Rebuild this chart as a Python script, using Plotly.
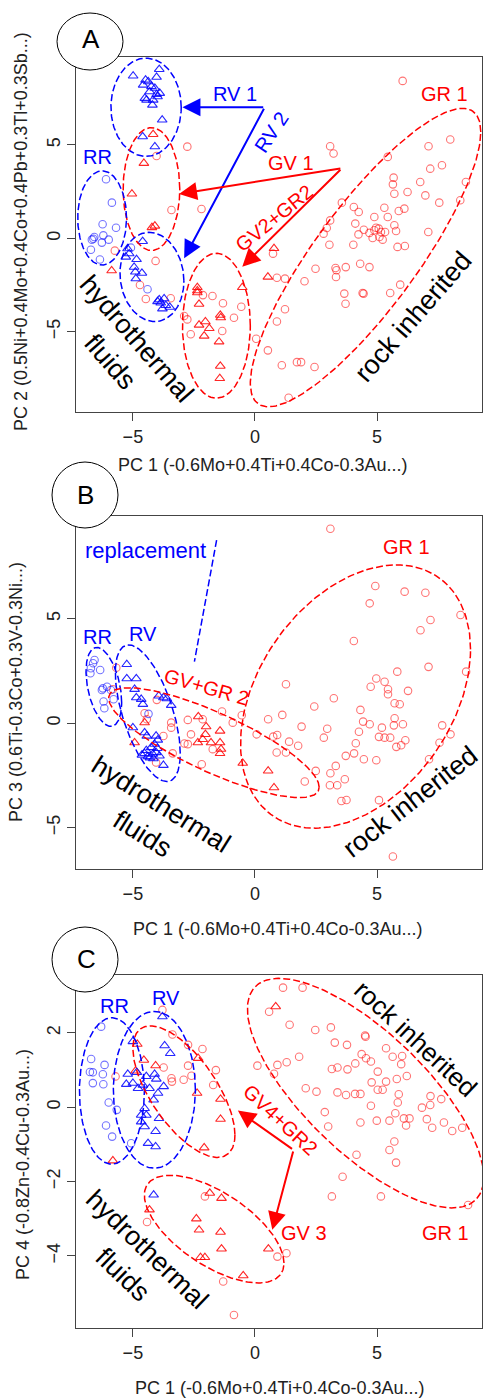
import numpy as np
import plotly.graph_objects as go

# ---------------- data: panel A (PC1 vs PC2) ----------------
A_RR = [(-6.10,3.16),(-5.86,1.91),(-6.24,0.75),(-5.69,0.57),(-6.58,0.07),(-6.68,-0.07),(-6.62,-0.02),
        (-6.21,0.16),(-5.99,-0.07),(-6.27,-0.23),(-6.72,-0.61),(-6.35,-1.13),(-5.08,-0.50),(-4.40,-2.73)]
A_RV = [(-4.99,8.70),(-3.92,9.05),(-4.03,8.63),(-4.48,8.48),(-4.37,8.39),(-4.58,8.21),(-4.24,8.13),(-4.10,8.04),
        (-3.90,7.77),(-3.99,7.59),(-4.44,7.41),(-4.51,7.50),(-4.17,7.41),(-4.20,7.14),(-4.03,7.71),(-4.31,7.86),
        (-3.80,6.34),(-4.60,5.45),(-4.10,4.91),
        (-4.60,-0.16),(-5.22,-0.55),(-5.15,-0.82),(-5.29,-1.00),(-4.85,-1.13),(-4.95,-1.54),(-4.90,-1.80),
        (-4.63,-1.86),(-4.88,-2.16),(-3.99,-3.38),(-3.86,-3.46),(-3.72,-3.23),(-3.65,-3.59),(-3.79,-3.77),
        (-3.49,-3.68),(-3.92,-3.29)]
A_GR = [(-2.77,4.91),(-4.03,4.41),(-3.42,1.52),(-2.19,1.57),(-5.74,-0.66),(-4.07,-1.21),(-4.71,-2.50),(-4.47,-3.25),
        (-3.45,-3.21),(-2.90,-4.16),(-2.77,-4.34),(-2.13,-3.04),(-1.74,-3.09),(-1.31,-3.48),(-0.56,-3.66),
        (-0.86,-4.25),(-1.34,-4.96),(-2.63,-5.14),
        (6.05,8.43),(7.11,4.93),(8.00,5.29),(3.08,4.93),(3.22,4.54),(5.44,4.36),(7.18,3.73),(7.66,3.91),(5.68,3.25),
        (5.65,2.89),(5.71,2.39),(6.25,2.48),(6.77,3.02),(6.98,2.30),(7.55,1.91),(8.64,3.02),(8.41,2.04),(3.56,1.91),
        (4.05,1.68),(4.25,1.41),(5.30,1.64),(5.89,1.46),(6.12,1.59),(4.89,1.14),(5.44,1.14),(3.08,0.96),(2.94,0.55),
        (2.81,0.25),(4.11,0.79),(4.24,0.21),(4.46,0.46),(4.69,0.29),(4.89,0.43),(4.96,0.57),(5.07,0.52),(5.16,0.34),
        (5.10,0.07),(5.23,-0.07),(5.33,0.34),(4.82,0.02),(5.71,0.70),(5.78,0.39),(7.10,0.34),(3.05,-0.34),(4.03,-0.34),
        (5.84,-0.46),(6.14,-0.41),(2.48,-1.63),(3.30,-1.59),(3.34,-1.71),(3.72,-1.54),(4.31,-1.36),(4.69,-1.54),
        (2.03,-2.30),(3.32,-2.07),(1.23,-2.16),(0.90,-2.11),(0.74,-0.82),(5.95,-2.48),(3.66,-2.96),(3.71,-3.50),
        (4.41,-2.93),(4.45,-2.96),(5.54,-2.93),(1.23,-3.80),(0.90,-4.45),(0.05,-5.38),(0.53,-6.00),(1.10,-6.80),
        (1.72,-6.63),(1.89,-6.63),(2.44,-6.89),(1.38,-8.54)]
A_GV = [(-4.17,5.57),(-4.55,4.02),(-5.04,2.38),(-4.10,0.66),(-4.22,0.58),(-5.87,-1.73),(0.78,-0.54),(0.53,-2.07),
        (-2.36,-2.63),(-2.36,-2.80),(-2.36,-2.91),(-2.29,-3.52),(-0.52,-2.63),(-2.03,-4.46),(-2.29,-4.64),
        (-1.87,-4.82),(-2.08,-5.23),(-1.42,-4.11),(-1.40,-4.25),(-1.47,-5.54),(-1.42,-6.84),(-1.44,-7.50)]

# ---------------- data: panel B (PC1 vs PC3) ----------------
B_RR = [(-6.57,3.03),(-6.63,2.87),(-6.72,2.63),(-6.74,2.39),(-6.34,2.55),(-6.23,1.67),(-6.06,1.75),(-6.27,1.59),
        (-5.90,1.59),(-6.20,1.04),(-6.17,0.72),(-5.79,1.15),(-4.36,0.45)]
B_RV = [(-5.25,2.82),(-5.25,2.14),(-4.86,2.14),(-4.93,1.63),(-4.86,1.23),(-4.66,1.15),(-4.59,0.91),(-3.94,1.31),
        (-3.75,1.23),(-3.61,1.18),(-3.43,0.86),(-5.00,-0.21),(-4.52,-0.45),(-4.43,-0.61),(-4.05,-0.61),(-3.98,-0.80),
        (-4.11,-1.00),(-4.25,-1.16),(-4.52,-1.44),(-4.39,-1.59),(-4.18,-1.48),(-4.05,-1.40),(-3.91,-1.56),
        (-3.75,-2.01),(-4.16,-1.69),(-4.63,-1.52),(-4.30,-1.65),(-4.45,-1.30),(-4.00,-1.20)]
B_GR = [(-5.68,2.66),(-5.82,1.63),(-4.52,0.48),(-4.43,0.19),(-4.02,1.12),(-3.43,0.03),(-3.43,-0.21),(-3.75,-0.61),
        (-3.37,-1.44),(-4.05,-1.88),(-2.62,-0.53),(-2.89,-0.97),(-2.75,-1.00),(-2.18,-1.96),(-2.14,0.19),
        (-1.35,0.56),(-0.54,0.38),(-0.91,0.03),(-1.73,-1.24),(-2.75,0.16),
        (3.09,9.31),(4.93,6.57),(6.13,6.30),(6.98,6.25),(4.70,5.74),(8.42,5.18),(7.19,4.94),(6.78,4.45),(4.05,3.94),
        (7.11,2.70),(8.65,2.47),(5.83,2.47),(4.97,2.14),(5.31,1.99),(4.74,1.75),(5.45,1.63),(5.45,1.39),(6.27,1.55),
        (1.27,1.87),(5.72,0.96),(5.93,0.91),(3.23,1.20),(2.43,0.80),(4.32,0.64),(5.72,0.24),(4.43,0.08),(4.70,-0.05),
        (5.20,-0.21),(5.69,-0.10),(6.06,-0.05),(7.67,-0.10),(8.01,-0.53),(0.54,0.19),(1.12,0.40),(1.91,-0.16),
        (2.96,-0.26),(2.82,-0.69),(0.07,-0.53),(0.75,-0.64),(0.91,-0.56),(1.40,-0.88),(1.77,-1.08),(0.89,-1.40),
        (1.27,-1.40),(4.26,-0.41),(4.13,-0.96),(4.06,-1.44),(4.46,-1.72),(5.08,-0.65),(5.31,-0.69),(5.54,-0.69),
        (5.79,-1.13),(5.99,-1.05),(6.16,-0.81),(7.56,-0.93),(7.13,-1.72),(4.97,-1.77),(3.72,-1.56),(2.49,-2.28),
        (3.09,-2.39),(3.31,-2.04),(3.68,-2.68),(3.07,-2.97),(3.37,-2.97),(2.04,-2.79),(3.54,-3.72),(3.75,-3.67),
        (5.08,-3.68),(5.65,-6.38)]
B_GV = [(-4.52,0.03),(-4.93,-0.93),(-2.32,0.32),(-2.00,-0.16),(-1.43,-0.37),(-2.03,-0.53),(-2.14,-0.77),
        (-2.34,-0.93),(-1.80,-0.93),(-1.43,-0.93),(-1.39,-1.24),(-1.43,-1.44),(-0.50,-1.91),(0.54,-2.28),(0.78,-3.08)]

# ---------------- data: panel C (PC1 vs PC4) ----------------
C_RR = [(-6.30,2.17),(-6.71,1.30),(-6.16,1.14),(-6.64,0.94),(-6.23,0.89),(-6.64,0.65),(-6.21,0.62),(-5.99,0.13),
        (-5.66,-0.07),(-6.10,-0.49),(-5.85,-0.79),(-5.07,-0.97),(-6.76,0.95)]
C_RV = [(-3.79,2.44),(-5.00,1.77),(-3.70,1.66),(-3.47,1.45),(-5.21,0.89),(-4.84,0.94),(-5.27,0.62),(-5.00,0.65),
        (-4.45,0.83),(-4.11,0.89),(-4.04,0.76),(-3.74,0.56),(-4.32,0.51),(-3.97,0.38),(-4.15,0.20),(-4.52,-0.03),
        (-4.66,-0.21),(-4.45,-0.21),(-3.93,-0.30),(-4.66,-0.39),(-4.07,-0.65),(-4.52,-0.52),(-4.38,-0.97),
        (-4.07,-1.06),(-4.15,-2.36),(-4.79,0.51),(-4.59,0.60)]
C_GR = [(-3.79,2.62),(-3.38,1.96),(-2.74,1.68),(-2.15,1.57),(-3.74,1.07),(-3.42,0.78),(-3.40,0.69),(-2.74,1.12),
        (-2.60,0.85),(-2.92,0.74),(-1.60,1.00),(-1.71,0.60),(-5.71,0.83),(-4.42,-3.09),(-2.05,-2.40),(-1.30,-4.69),
        (-0.86,-5.59),
        (1.15,3.22),(1.95,3.22),(0.58,2.57),(1.42,2.22),(2.47,2.08),(3.11,2.15),(4.51,1.93),(4.53,1.90),(3.27,1.74),
        (3.77,1.68),(1.81,1.36),(1.30,1.21),(0.92,1.14),(0.10,1.12),(0.78,0.90),(4.37,1.43),(4.55,1.32),(4.75,1.23),
        (5.37,1.59),(5.64,1.36),(6.03,1.38),(5.99,1.16),(3.15,1.03),(3.38,1.07),(3.79,1.02),(4.11,1.18),(5.03,0.96),
        (5.81,0.76),(6.22,0.84),(2.08,0.51),(2.52,0.42),(3.38,0.40),(3.73,0.33),(4.10,0.36),(4.32,0.36),(4.78,0.67),
        (5.03,0.47),(5.23,0.47),(5.37,0.69),(5.89,0.35),(5.85,0.13),(4.75,0.04),(2.86,-0.13),(3.00,-0.52),
        (4.32,-0.41),(4.99,-0.36),(5.51,-0.36),(5.75,-0.16),(6.10,-0.30),(6.33,-0.30),(6.19,-0.49),(6.84,-0.01),
        (7.18,0.06),(7.19,0.30),(7.63,0.22),(7.04,-0.32),(7.26,-0.55),(7.74,-0.41),(8.08,-0.64),(8.49,-0.55),
        (5.71,-0.92),(5.51,-1.15),(5.78,-1.49),(4.16,-1.28),(3.59,-1.87),(3.15,-2.40),(5.16,-2.40),(8.73,-2.63),
        (0.92,-4.02),(1.29,-3.93)]
C_GV = [(-4.82,1.70),(-4.55,1.27),(-4.07,1.12),(-4.89,0.98),(-2.33,1.32),(-2.37,0.38),(-1.41,0.22),(-1.41,-0.32),
        (-2.08,-1.09),(-5.82,-1.44),(-4.32,-2.76),(-1.85,-2.31),(-1.37,-2.45),(-2.40,-3.00),(-2.29,-3.30),
        (-1.41,-3.36),(-1.37,-3.81),(-2.23,-4.04),(-2.05,-4.04),(0.55,-3.81),(-0.48,-4.53),(0.85,2.71)]

# ellipses: (panel, colour, cx, cy, half-width, half-height, phase deg)
ELLIPSES = [
    (0, "blue", -4.46, 7.02, 1.44, 2.63, 90), (0, "red", -4.24, 2.64, 1.16, 3.29, 90),
    (0, "blue", -6.26, 1.09, 1.00, 2.52, 90), (0, "blue", -4.22, -2.07, 1.31, 2.39, 95),
    (0, "red", -1.58, -4.68, 1.39, 3.88, 90), (0, "red", 4.53, -1.03, 4.72, 7.99, 32.7),
    (1, "blue", -6.19, 1.74, 0.73, 1.89, 113), (1, "blue", -4.39, 0.48, 1.33, 3.27, 126),
    (1, "red", -1.68, -0.93, 4.31, 2.63, 144), (1, "red", 4.12, 1.28, 4.71, 6.30, 69),
    (2, "blue", -5.86, 0.44, 1.33, 1.97, 90), (2, "blue", -4.12, 0.47, 1.68, 2.11, 90),
    (2, "red", -2.91, 0.42, 2.09, 1.77, 131), (2, "red", -1.67, -3.28, 2.86, 1.45, 129),
    (2, "red", 4.53, 0.38, 4.84, 3.09, 137),
]
# arrows: (panel, colour, tail x, tail y, head x, head y)
ARROWS = [
    (0, "blue", 0.40, 7.02, -2.97, 7.02), (0, "blue", 0.40, 7.02, -2.90, -1.07),
    (0, "red", 3.56, 3.75, -3.11, 2.38), (0, "red", 3.56, 3.75, -0.52, -1.52),
    (2, "red", 1.58, -1.15, -0.70, -0.09), (2, "red", 1.58, -1.15, 0.71, -3.30),
]
# labels: (panel, text, x, y, colour, size, angle)
LABELS = [
    (0, "RV 1", -0.83, 7.71, "blue", 20, 0), (0, "RV 2", 0.67, 5.71, "blue", 20, -56),
    (0, "RR", -6.46, 4.34, "blue", 20, 0), (0, "GV 1", 1.49, 4.02, "red", 20, 0),
    (0, "GV2+GR2", 0.80, 1.07, "red", 20, -39), (0, "GR 1", 7.75, 7.71, "red", 20, 0),
    (0, "hydrothermal<br>fluids", -5.37, -5.98, "black", 27, 49),
    (0, "rock inherited", 6.46, -4.20, "black", 27, -49),
    (1, "replacement", -4.47, 8.29, "blue", 22, 0), (1, "RR", -6.47, 4.15, "blue", 20, 0),
    (1, "RV", -4.59, 4.27, "blue", 20, 0), (1, "GV+GR 2", -1.98, 1.75, "red", 20, 16),
    (1, "GR 1", 6.20, 8.42, "red", 20, 0),
    (1, "hydrothermal<br>fluids", -4.20, -4.59, "black", 27, 32),
    (1, "rock inherited", 6.34, -3.75, "black", 27, -38),
    (2, "RR", -5.75, 2.73, "blue", 20, 0), (2, "RV", -3.64, 2.93, "blue", 20, 0),
    (2, "GV4+GR2", 1.05, -0.34, "red", 20, 43), (2, "GV 3", 1.99, -3.39, "red", 20, 0),
    (2, "GR 1", 7.81, -3.39, "red", 20, 0),
    (2, "rock inherited", 6.60, 1.85, "black", 26, 43),
    (2, "hydrothermal<br>fluids", -4.90, -4.18, "black", 27, 44),
]
REPLACEMENT_LINE = ([-1.57, -2.48], [8.77, 2.95])

X_TITLE = "PC 1 (-0.6Mo+0.4Ti+0.4Co-0.3Au...)"
Y_TITLES = ["PC 2 (0.5Ni+0.4Mo+0.4Co+0.4Pb+0.3Tl+0.3Sb...)",
            "PC 3 (0.6Ti-0.3Co+0.3V-0.3Ni...)",
            "PC 4 (-0.8Zn-0.4Cu-0.3Au...)"]
PANEL_LETTERS = ["A", "B", "C"]
X_TICKS = [-5, 0, 5]
Y_TICKS = [[-5, 0, 5], [-5, 0, 5], [-4, -2, 0, 2]]

# ---------------- layout geometry (pixels) ----------------
WIDTH, HEIGHT = 484, 1399
FONT = "Liberation Sans, Arial, sans-serif"
COL = {"red": "#ff0000", "blue": "#0000ff", "black": "#000000"}
plot_left, plot_right = 76, 482
panel_px = [(57, 412), (516, 869.3), (975, 1328.3)]
y_ranges = [[-9.30, 9.71], [-6.99, 9.92], [-5.95, 3.56]]
x_range = [-7.33, 9.30]

def py(p):
    return 1 - p / HEIGHT

def px(p):
    return p / WIDTH

fig = go.Figure()
panels = [(A_RR, A_RV, A_GR, A_GV), (B_RR, B_RV, B_GR, B_GV), (C_RR, C_RV, C_GR, C_GV)]

def axn(i):
    return ("x", "y") if i == 0 else (f"x{i+1}", f"y{i+1}")

for i, (rr, rv, gr, gv) in enumerate(panels):
    xa, ya = axn(i)
    for pts, sym, col, size in [(gr, "circle-open", "rgba(255,0,0,0.55)", 7.5),
                                (gv, "triangle-up-open", "rgba(255,0,0,0.85)", 8.5),
                                (rr, "circle-open", "rgba(0,0,255,0.55)", 7.5),
                                (rv, "triangle-up-open", "rgba(0,0,255,0.85)", 8.5)]:
        fig.add_trace(go.Scatter(x=[p[0] for p in pts], y=[p[1] for p in pts], mode="markers",
                                 marker=dict(symbol=sym, size=size, color=col, line=dict(width=1.1)),
                                 xaxis=xa, yaxis=ya, showlegend=False, hoverinfo="skip"))

t = np.linspace(0, 2 * np.pi, 200)
for (i, c, cx, cy, w, h, ph) in ELLIPSES:
    xa, ya = axn(i)
    phr = np.deg2rad(ph)
    fig.add_trace(go.Scatter(x=cx + w * np.cos(t), y=cy + h * np.cos(t - phr), mode="lines",
                             line=dict(color=COL[c], width=1.5, dash="7px,3px"),
                             xaxis=xa, yaxis=ya, showlegend=False, hoverinfo="skip"))

fig.add_trace(go.Scatter(x=REPLACEMENT_LINE[0], y=REPLACEMENT_LINE[1], mode="lines",
                         line=dict(color=COL["blue"], width=1.5, dash="7px,3px"),
                         xaxis="x2", yaxis="y2", showlegend=False, hoverinfo="skip"))

ann = []
for (i, c, tx, ty, hx, hy) in ARROWS:
    xa, ya = axn(i)
    ann.append(dict(x=hx, y=hy, ax=tx, ay=ty, xref=xa, yref=ya, axref=xa, ayref=ya, text="",
                    showarrow=True, arrowhead=2, arrowsize=1.8, arrowwidth=2, arrowcolor=COL[c], standoff=0))
for (i, txt, x, y, c, s, ang) in LABELS:
    xa, ya = axn(i)
    ann.append(dict(x=x, y=y, xref=xa, yref=ya, text=txt, showarrow=False, textangle=ang,
                    font=dict(family=FONT, size=s, color=COL[c]), xanchor="center", yanchor="middle"))

x_title_pos = [(262, 465), (277, 929), (279, 1388)]
y_title_pos = [(21, 232), (16, 692), (23, 1165)]
for i in range(3):
    ann.append(dict(x=px(x_title_pos[i][0]), y=py(x_title_pos[i][1]), xref="paper", yref="paper",
                    text=X_TITLE, showarrow=False, font=dict(family=FONT, size=18, color="#222"),
                    xanchor="center", yanchor="middle"))
    ann.append(dict(x=px(y_title_pos[i][0]), y=py(y_title_pos[i][1]), xref="paper", yref="paper",
                    text=Y_TITLES[i], showarrow=False, textangle=-90,
                    font=dict(family=FONT, size=18, color="#222"), xanchor="center", yanchor="middle"))

circles = [((57, 13), (123, 70), (91, 39)), ((52, 462), (118, 528), (85, 495)), ((52, 927), (118, 992), (86, 959))]
shapes = []
for i, ((x0, y0), (x1, y1), (lx, ly)) in enumerate(circles):
    shapes.append(dict(type="circle", xref="paper", yref="paper", x0=px(x0), x1=px(x1), y0=py(y1), y1=py(y0),
                       fillcolor="white", line=dict(color="black", width=1), layer="above"))
    ann.append(dict(x=px(lx), y=py(ly), xref="paper", yref="paper", text=PANEL_LETTERS[i], showarrow=False,
                    font=dict(family=FONT, size=26, color="black"), xanchor="center", yanchor="middle"))

layout = dict(width=WIDTH, height=HEIGHT, margin=dict(l=0, r=0, t=0, b=0), autosize=False,
              paper_bgcolor="white", plot_bgcolor="white", annotations=ann, shapes=shapes,
              font=dict(family=FONT, size=18, color="black"))
for i in range(3):
    s = "" if i == 0 else str(i + 1)
    top, bot = panel_px[i]
    common = dict(showline=True, linecolor="#444", linewidth=1, mirror=True, ticks="outside", ticklen=8,
                  tickwidth=1, tickcolor="#444", showgrid=False, zeroline=False,
                  tickfont=dict(family=FONT, size=18, color="#222"))
    layout["xaxis" + s] = dict(domain=[px(plot_left), px(plot_right)], range=x_range, tickvals=X_TICKS,
                               anchor="y" + s, **common)
    layout["yaxis" + s] = dict(domain=[py(bot), py(top)], range=y_ranges[i], tickvals=Y_TICKS[i],
                               anchor="x" + s, tickangle=-90, **common)
fig.update_layout(**layout)
fig.write_html("out.html")
